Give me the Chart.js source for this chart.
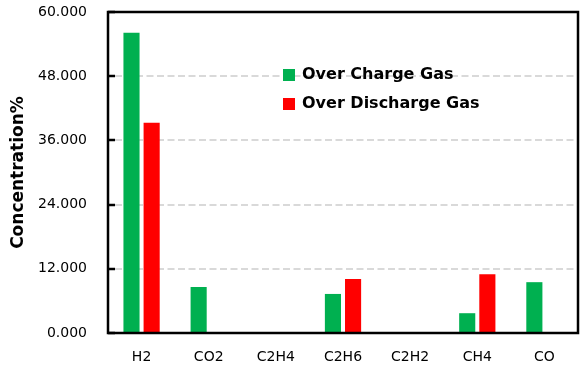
<!DOCTYPE html>
<html>
<head>
<meta charset="utf-8">
<script src="https://cdn.jsdelivr.net/npm/chart.js@4/dist/chart.umd.min.js"></script>
<style>
html,body{margin:0;padding:0;background:#fff;}
#wrap{width:580px;height:366px;position:relative;}
</style>
</head>
<body>
<div id="wrap"><canvas id="c" width="580" height="366"></canvas></div>
<script>
const categories = ["H2", "CO2", "C2H4", "C2H6", "C2H2", "CH4", "CO"];
const overCharge = [56.1, 8.6, 0, 7.3, 0, 3.7, 9.5];
const overDischarge = [39.3, 0, 0, 10.1, 0, 11.0, 0];
const seriesNames = ["Over Charge Gas", "Over Discharge Gas"];
const yTicks = [0, 12, 24, 36, 48, 60];

const frame = {
  id: 'frame',
  beforeDatasetsDraw(chart) {
    const {ctx, chartArea: a, scales: {y}} = chart;
    ctx.save();
    ctx.strokeStyle = '#d9d9d9';
    ctx.lineWidth = 2;
    ctx.setLineDash([7, 3.5]);
    y.ticks.forEach(t => {
      if (t.value === 0 || t.value === 60) return;
      const py = Math.round(y.getPixelForValue(t.value));
      ctx.beginPath();
      ctx.moveTo(a.left + 7, py);
      ctx.lineTo(a.right, py);
      ctx.stroke();
    });
    ctx.restore();
  },
  afterDatasetsDraw(chart) {
    const {ctx, chartArea: a, scales: {y}} = chart;
    ctx.save();
    ctx.strokeStyle = '#000';
    ctx.lineWidth = 2.5;
    ctx.setLineDash([]);
    ctx.strokeRect(a.left, a.top, a.right - a.left, a.bottom - a.top);
    y.ticks.forEach(t => {
      const py = Math.round(y.getPixelForValue(t.value));
      ctx.beginPath();
      ctx.moveTo(a.left, py);
      ctx.lineTo(a.left + 7, py);
      ctx.stroke();
    });
    // legend
    ctx.font = 'bold 16px "DejaVu Sans"';
    ctx.textBaseline = 'middle';
    ctx.textAlign = 'left';
    chart.data.datasets.forEach((ds, i) => {
      const yy = 75 + i * 29;
      ctx.fillStyle = ds.backgroundColor;
      ctx.fillRect(283, yy - 6, 12, 12);
      ctx.fillStyle = '#000';
      ctx.fillText(ds.label, 302, yy);
    });
    ctx.restore();
  }
};

new Chart(document.getElementById('c'), {
  type: 'bar',
  data: {
    labels: categories,
    datasets: [
      {label: seriesNames[0], data: overCharge, backgroundColor: '#00B050'},
      {label: seriesNames[1], data: overDischarge, backgroundColor: '#FF0000'}
    ]
  },
  options: {
    responsive: false,
    animation: false,
    devicePixelRatio: 1,
    layout: {padding: {left: 0, top: 12, right: 2, bottom: 0}},
    datasets: {bar: {categoryPercentage: 0.6, barPercentage: 0.8}},
    plugins: {legend: {display: false}, tooltip: {enabled: false}},
    scales: {
      x: {
        grid: {display: false, drawTicks: false},
        border: {display: false},
        ticks: {color: '#000', font: {family: 'DejaVu Sans', size: 14}, padding: 16},
        afterFit(s) { s.height = 33; s.paddingLeft = 0; s.paddingRight = 0; }
      },
      y: {
        min: 0, max: 60,
        afterBuildTicks(s) { s.ticks = yTicks.map(v => ({value: v})); },
        grid: {display: false, drawTicks: false},
        border: {display: false},
        ticks: {color: '#000', font: {family: 'DejaVu Sans', size: 14}, padding: 21,
          callback: v => Number(v).toFixed(3)},
        title: {display: true, text: 'Concentration%', color: '#000',
          font: {family: 'DejaVu Sans', size: 17, weight: 'bold'}, padding: {top: 8, bottom: 0}},
        afterFit(s) { s.width = 108; s.paddingTop = 0; s.paddingBottom = 0; }
      }
    }
  },
  plugins: [frame]
});
</script>
</body>
</html>
